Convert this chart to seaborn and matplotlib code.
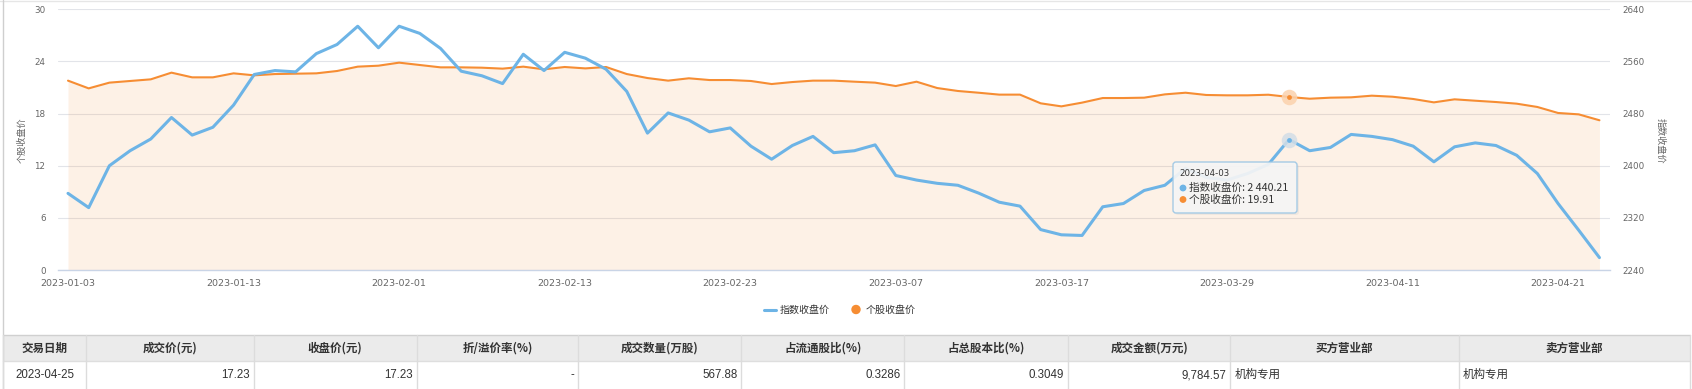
import numpy as np
import pandas as pd
import matplotlib
matplotlib.use("Agg")
import matplotlib.pyplot as plt
import seaborn as sns
from matplotlib.patches import Rectangle, FancyBboxPatch, Circle
from matplotlib.lines import Line2D
from matplotlib.transforms import Affine2D

# trading days 2023-01-03 .. 2023-04-25 (Spring Festival and Qingming closed)
holidays = ["2023-01-23", "2023-01-24", "2023-01-25", "2023-01-26", "2023-01-27", "2023-04-05"]
dates = [d.strftime("%Y-%m-%d") for d in pd.bdate_range("2023-01-03", "2023-04-25")
         if d.strftime("%Y-%m-%d") not in holidays]

# 指数收盘价 (right axis)
index_close = [2357.6, 2335.7, 2400, 2423, 2441, 2474, 2447, 2459, 2493, 2540,
               2546, 2544, 2572, 2586, 2614, 2581, 2614, 2603, 2580, 2545,
               2538, 2526, 2571, 2546, 2574, 2565, 2548, 2514, 2450, 2481,
               2470, 2452, 2458, 2430, 2410, 2431, 2445, 2420, 2423, 2432,
               2385, 2378, 2373, 2370, 2358, 2344, 2338, 2302, 2294, 2293,
               2337, 2342, 2362, 2370, 2396, 2382, 2378, 2388, 2402, 2440.21,
               2423, 2428, 2448, 2445, 2440, 2430, 2406, 2429, 2435, 2431,
               2416, 2388, 2342, 2301, 2259]

# 个股收盘价 (left axis)
stock_close = [21.79, 20.90, 21.56, 21.75, 21.94, 22.71, 22.17, 22.17, 22.63, 22.40,
               22.55, 22.59, 22.63, 22.90, 23.40, 23.51, 23.86, 23.59, 23.32, 23.32,
               23.28, 23.17, 23.40, 23.09, 23.36, 23.20, 23.36, 22.55, 22.09, 21.79,
               22.06, 21.86, 21.86, 21.75, 21.40, 21.63, 21.79, 21.79, 21.67, 21.56,
               21.17, 21.67, 20.94, 20.60, 20.40, 20.18, 20.18, 19.18, 18.83, 19.26,
               19.79, 19.79, 19.83, 20.21, 20.40, 20.14, 20.10, 20.10, 20.17, 19.91,
               19.71, 19.83, 19.87, 20.06, 19.94, 19.68, 19.29, 19.64, 19.48, 19.33,
               19.14, 18.76, 18.07, 17.91, 17.23]

tip_date = "2023-04-03"

table_header = ["交易日期", "成交价(元)", "收盘价(元)", "折/溢价率(%)", "成交数量(万股)",
                "占流通股比(%)", "占总股本比(%)", "成交金额(万元)", "买方营业部", "卖方营业部"]
table_row = ["2023-04-25", "17.23", "17.23", "-", "567.88",
             "0.3286", "0.3049", "9,784.57", "机构专用", "机构专用"]

BLUE = "#6db4e6"
ORANGE = "#f68d33"
GREY = "#666666"
CJK = ["Noto Sans CJK SC", "DejaVu Sans"]

sns.set_style("white")
plt.rcParams["font.family"] = ["DejaVu Sans", "Noto Sans CJK SC"]

W, H = 1692, 389
fig = plt.figure(figsize=(W / 100, H / 100), dpi=100)
PX = Affine2D().scale(1, -1).translate(0, H)  # pixel coords, origin top-left

x = np.arange(len(dates))
ax = fig.add_axes([58 / W, 1 - 270 / H, (1610 - 58) / W, (270 - 9.3) / H])

ax.fill_between(x, 0, stock_close, color=ORANGE, alpha=0.12, lw=0, zorder=1)
sns.lineplot(x=x, y=stock_close, ax=ax, color=ORANGE, linewidth=1.5, legend=False, zorder=3)

ax.set_xlim(-0.483, 74.51)
ax.set_ylim(0, 30)
ax.set_yticks(np.arange(0, 31, 6))
ax.grid(axis="y", color="#e2e4e9", lw=0.8)
ax.set_axisbelow(True)
ax.set_xticks(x[::8])
ax.set_xticklabels([dates[i] for i in x[::8]])
ax.tick_params(axis="x", length=5, width=0.8, color="#c9d4e6", labelcolor=GREY,
               labelsize=6.8, pad=1.5)
ax.tick_params(axis="y", length=0, pad=9, labelsize=6.3, labelcolor=GREY)
for s in ["top", "left", "right"]:
    ax.spines[s].set_visible(False)
ax.spines["bottom"].set_color("#c9d4e6")
ax.spines["bottom"].set_linewidth(1)
ax.set_xlabel("")
ax.set_ylabel("")

ax2 = ax.twinx()
sns.lineplot(x=x, y=index_close, ax=ax2, color=BLUE, linewidth=2.2, legend=False, zorder=2)
ax2.set_ylim(2240, 2640)
ax2.set_yticks(np.arange(2240, 2641, 80))
ax2.tick_params(axis="y", length=0, pad=9, labelsize=6.3, labelcolor=GREY)
for s in ax2.spines.values():
    s.set_visible(False)
ax2.set_ylabel("")

# highlighted points at tooltip date
ti = dates.index(tip_date)
ax.scatter([ti], [stock_close[ti]], s=125, color="#fbd2ad", alpha=0.85, lw=0, zorder=4)
ax.scatter([ti], [stock_close[ti]], s=12, color=ORANGE, lw=0, zorder=5)
ax2.scatter([ti], [index_close[ti]], s=125, color="#d3dee7", alpha=0.85, lw=0, zorder=4)
ax2.scatter([ti], [index_close[ti]], s=12, color=BLUE, lw=0, zorder=5)

# axis names
fig.text(22, 140, "个股收盘价", transform=PX, rotation=90, ha="center", va="center",
         fontsize=6.6, color=GREY, family=CJK)
fig.text(1660, 141, "指数收盘价", transform=PX, rotation=270, ha="center", va="center",
         fontsize=6.6, color=GREY, family=CJK)

# tooltip
fig.add_artist(FancyBboxPatch((1175, 164), 124, 51, boxstyle="round,pad=0,rounding_size=3",
                              transform=PX, fc="#cccccc", ec="none", alpha=0.25, zorder=9))
fig.add_artist(FancyBboxPatch((1173, 162), 124, 51, boxstyle="round,pad=0,rounding_size=3",
                              transform=PX, fc="#f6f6f6", ec="#9cc6e4", lw=1, alpha=0.9, zorder=10))
fig.text(1179, 174, tip_date, transform=PX, ha="left", va="center", fontsize=6.2,
         color="#333333", zorder=11)
fig.add_artist(Circle((1183, 188), 2.7, transform=PX, color=BLUE, zorder=11))
fig.text(1189, 188, f"指数收盘价: {index_close[ti]:,.2f}".replace(",", " "), transform=PX,
         ha="left", va="center", fontsize=7.7, color="#333333", family=CJK, zorder=11)
fig.add_artist(Circle((1183, 199.5), 2.7, transform=PX, color=ORANGE, zorder=11))
fig.text(1189, 199.5, f"个股收盘价: {stock_close[ti]:.2f}", transform=PX,
         ha="left", va="center", fontsize=7.7, color="#333333", family=CJK, zorder=11)

# legend
fig.add_artist(Line2D([764, 776], [309.5, 309.5], transform=PX, color=BLUE, lw=2.2))
fig.text(780, 309.5, "指数收盘价", transform=PX, ha="left", va="center", fontsize=7.2,
         color="#333333", family=CJK)
fig.add_artist(Circle((856, 309.5), 4, transform=PX, color=ORANGE))
fig.text(866, 309.5, "个股收盘价", transform=PX, ha="left", va="center", fontsize=7.2,
         color="#333333", family=CJK)

# outer borders
fig.add_artist(Line2D([0, W], [0.5, 0.5], transform=PX, color="#e6e6e6", lw=1))
fig.add_artist(Line2D([2.5, 2.5], [0, H], transform=PX, color="#cfcfcf", lw=1))

# table
cols = [3, 86.3, 253.6, 416.5, 578.4, 741.3, 904.3, 1068.3, 1230.2, 1459, 1690]
top, mid, bot = 335, 361, 389
fig.add_artist(Rectangle((cols[0], top), cols[-1] - cols[0], mid - top, transform=PX,
                         fc="#ebebeb", ec="none"))
fig.add_artist(Line2D([cols[0], cols[-1]], [top, top], transform=PX, color="#d0d0d0", lw=1))
fig.add_artist(Line2D([cols[0], cols[-1]], [mid, mid], transform=PX, color="#dedede", lw=1))
for c in cols:
    fig.add_artist(Line2D([c, c], [top, bot], transform=PX, color="#dcdcdc", lw=1))

aligns = ["center", "right", "right", "right", "right", "right", "right", "right", "left", "left"]
for i, (hd, val) in enumerate(zip(table_header, table_row)):
    l, r = cols[i], cols[i + 1]
    fig.text((l + r) / 2, 348, hd, transform=PX, ha="center", va="center", fontsize=8.3,
             color="#333333", weight="bold", family=CJK)
    if aligns[i] == "center":
        tx = (l + r) / 2
    elif aligns[i] == "right":
        tx = r - 4
    else:
        tx = l + 4
    fig.text(tx, 375, val, transform=PX, ha=aligns[i], va="center", fontsize=8.3,
             color="#333333", family=["Liberation Sans", "Noto Sans CJK SC"])

fig.savefig("out.png", dpi=100)
